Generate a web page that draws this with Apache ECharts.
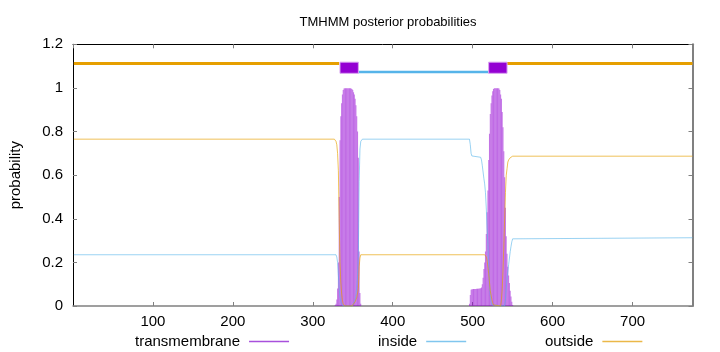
<!DOCTYPE html>
<html><head><meta charset="utf-8">
<script src="https://cdn.jsdelivr.net/npm/echarts@6/dist/echarts.min.js"></script>
<style>html,body{margin:0;padding:0;background:#fff}#c{width:720px;height:352px}</style>
</head><body><div id="c"></div>
<script>
// ---------------- data ----------------
const chartTitle = 'TMHMM posterior probabilities';
const yAxisName = 'probability';
const seriesNames = ['transmembrane', 'inside', 'outside'];
const seqLength = 775;
const yMax = 1.2;

// topology bar at the top: [start, end] per region kind
const topoOutside = [[1, 333], [543, 775]];
const topoInside = [[357, 520]];
const topoHelix = [[334, 357], [520, 543]];

// transmembrane posterior per residue [residue, p]
const tmPosterior = [
  [328,0.005],[329,0.01],[330,0.03],[331,0.08],[332,0.2],[333,0.5],[334,0.76],[335,0.87],[336,0.93],[337,0.97],
  [338,0.99],[339,0.997],[340,0.998],[341,0.999],[342,0.999],[343,0.999],[344,0.999],[345,0.999],[346,0.999],[347,0.998],
  [348,0.997],[349,0.995],[350,0.99],[351,0.98],[352,0.97],[353,0.95],[354,0.92],[355,0.87],[356,0.8],[357,0.68],
  [358,0.25],[359,0.06],[360,0.01],
  [496,0.01],[497,0.05],[498,0.075],[499,0.077],[500,0.077],[501,0.078],[502,0.078],[503,0.078],[504,0.078],[505,0.079],
  [506,0.079],[507,0.079],[508,0.08],[509,0.08],[510,0.081],[511,0.085],[512,0.1],[513,0.13],[514,0.17],[515,0.2],
  [516,0.25],[517,0.33],[518,0.43],[519,0.53],[520,0.67],[521,0.79],[522,0.88],[523,0.93],[524,0.965],[525,0.985],
  [526,0.995],[527,0.998],[528,0.999],[529,0.999],[530,0.999],[531,0.999],[532,0.998],[533,0.997],[534,0.99],[535,0.97],
  [536,0.95],[537,0.89],[538,0.82],[539,0.71],[540,0.59],[541,0.45],[542,0.32],[543,0.24],[544,0.18],[545,0.14],
  [546,0.105],[547,0.07],[548,0.043],[549,0.02],[550,0.005]
];

// inside posterior [residue, p]
const insidePosterior = [
  [1,0.235],[329,0.235],[330,0.225],[331,0.2],[332,0.14],[333,0.08],[334,0.04],[335,0.02],[336,0.01],[337,0.003],
  [338,0],[349,0],[350,0.005],[351,0.01],[352,0.02],[353,0.03],[354,0.05],[355,0.09],[356,0.14],[357,0.24],
  [358,0.57],[359,0.72],[360,0.755],[361,0.763],[362,0.765],[496,0.765],[497,0.74],[498,0.7],[499,0.688],[500,0.685],
  [510,0.682],[511,0.67],[512,0.645],[513,0.615],[514,0.585],[515,0.56],[516,0.52],[517,0.45],[518,0.36],[519,0.29],
  [520,0.18],[521,0.1],[522,0.05],[523,0.02],[524,0.005],[525,0],[540,0],[541,0.03],[542,0.08],[543,0.13],
  [544,0.16],[545,0.19],[546,0.22],[547,0.25],[548,0.274],[549,0.295],[550,0.308],[551,0.313],[775,0.313]
];

// outside posterior [residue, p]
const outsidePosterior = [
  [1,0.765],[327,0.765],[328,0.76],[329,0.755],[330,0.74],[331,0.7],[332,0.62],[333,0.4],[334,0.2],[335,0.11],
  [336,0.06],[337,0.027],[338,0.01],[339,0.003],[340,0],[349,0],[350,0.005],[351,0.01],[352,0.01],[353,0.02],
  [354,0.03],[355,0.04],[356,0.06],[357,0.08],[358,0.18],[359,0.22],[360,0.235],[515,0.235],[516,0.232],[517,0.225],
  [518,0.21],[519,0.18],[520,0.15],[521,0.11],[522,0.07],[523,0.05],[524,0.03],[525,0.015],[526,0.005],[527,0],
  [535,0],[536,0.03],[537,0.08],[538,0.17],[539,0.28],[540,0.4],[541,0.52],[542,0.6],[543,0.63],[544,0.66],
  [545,0.67],[546,0.675],[547,0.68],[548,0.683],[549,0.685],[550,0.687],[775,0.687]
];

// ---------------- chart ----------------
const FONT = '"Liberation Sans", Arial, Helvetica, sans-serif';
const C_TM = '#9400D3', C_IN = '#56B4E9', C_OUT = '#E69F00';
const Y_OUT = 1.112, Y_IN = 1.073, Y_BOX_TOP = 1.118, Y_BOX_BOT = 1.067;

const topoData = []
  .concat(topoOutside.map(s => [s[0], s[1], 0]))
  .concat(topoInside.map(s => [s[0], s[1], 1]))
  .concat(topoHelix.map(s => [s[0], s[1], 2]));

const chart = echarts.init(document.getElementById('c'), null, {renderer: 'canvas'});

function legendFor(name, color, left) {
  return {
    data: [{name: name, icon: 'rect', itemStyle: {color: color, opacity: 1, borderWidth: 0}}],
    left: left, top: 329, align: 'right',
    itemWidth: 40, itemHeight: 1.5, selectedMode: false, inactiveColor: color,
    textStyle: {fontFamily: FONT, fontSize: 15, color: '#000', padding: [0, 4, 0, 0]}
  };
}

chart.setOption({
  animation: false,
  backgroundColor: '#fff',
  textStyle: {fontFamily: FONT},
  title: {
    text: chartTitle, left: 383, top: 11, textAlign: 'center',
    textStyle: {fontFamily: FONT, fontSize: 13, fontWeight: 'normal', color: '#000'}
  },
  grid: {left: 73, right: 27.5, top: 44.3, bottom: 46, containLabel: false},
  legend: [
    legendFor(seriesNames[0], '#a850dc', 130),
    legendFor(seriesNames[1], '#80c6ee', 373),
    legendFor(seriesNames[2], '#ebb848', 540)
  ],
  xAxis: [{
    type: 'value', min: 0, max: seqLength, interval: 100,
    axisLine: {onZero: false, lineStyle: {color: '#808080', width: 1.5}},
    axisTick: {inside: true, length: 4, lineStyle: {color: '#808080'}},
    axisLabel: {showMinLabel: false, showMaxLabel: false, margin: 8,
      fontFamily: FONT, fontSize: 15, color: '#000'},
    splitLine: {show: false}
  }, {
    type: 'value', position: 'top', min: 0, max: seqLength, interval: 100,
    axisLine: {onZero: false, lineStyle: {color: '#000', width: 1}},
    axisTick: {inside: true, length: 4, lineStyle: {color: '#808080'}},
    axisLabel: {show: false}, splitLine: {show: false}
  }],
  yAxis: [{
    type: 'value', min: 0, max: yMax, interval: 0.2,
    name: yAxisName, nameLocation: 'middle', nameGap: 50, nameRotate: 90,
    nameTextStyle: {fontFamily: FONT, fontSize: 15, color: '#000'},
    axisLine: {onZero: false, lineStyle: {color: '#000', width: 1}},
    axisTick: {inside: true, length: 4, lineStyle: {color: '#808080'}},
    axisLabel: {margin: 10, fontFamily: FONT, fontSize: 15, color: '#000'},
    splitLine: {show: false}
  }, {
    type: 'value', position: 'right', min: 0, max: yMax, interval: 0.2,
    axisLine: {onZero: false, lineStyle: {color: '#808080', width: 2}},
    axisTick: {inside: true, length: 4, lineStyle: {color: '#808080'}},
    axisLabel: {show: false}, splitLine: {show: false}
  }],
  series: [
    {
      name: seriesNames[0], type: 'bar', xAxisIndex: 0, yAxisIndex: 0,
      data: tmPosterior, barWidth: 1, barGap: '-100%',
      itemStyle: {color: 'rgba(148, 0, 211, 0.5)'}, z: 1, silent: true
    },
    {
      name: seriesNames[1], type: 'line', data: insidePosterior, showSymbol: false,
      lineStyle: {color: C_IN, width: 1, opacity: 0.6}, itemStyle: {color: C_IN}, z: 3, silent: true
    },
    {
      name: seriesNames[2], type: 'line', data: outsidePosterior, showSymbol: false,
      lineStyle: {color: C_OUT, width: 1, opacity: 0.65}, itemStyle: {color: C_OUT}, z: 3, silent: true
    },
    {
      name: 'topology', type: 'custom', data: topoData, z: 4, silent: true,
      encode: {x: [0, 1]},
      renderItem: function (params, api) {
        const s = api.value(0), e = api.value(1), k = api.value(2);
        if (k === 0 || k === 1) {
          const y = k === 0 ? Y_OUT : Y_IN;
          const p0 = api.coord([s, y]), p1 = api.coord([e, y]);
          return {type: 'line', shape: {x1: p0[0], y1: p0[1], x2: p1[0], y2: p1[1]},
            style: {stroke: k === 0 ? C_OUT : C_IN, lineWidth: k === 0 ? 3 : 2.5}};
        }
        const a = api.coord([s, Y_BOX_TOP]), b = api.coord([e, Y_BOX_BOT]);
        return {type: 'rect', shape: {x: a[0], y: a[1], width: b[0] - a[0], height: b[1] - a[1]},
          style: {fill: C_TM, stroke: '#d9a3f0', lineWidth: 1}};
      }
    }
  ]
});
</script>
</body></html>
